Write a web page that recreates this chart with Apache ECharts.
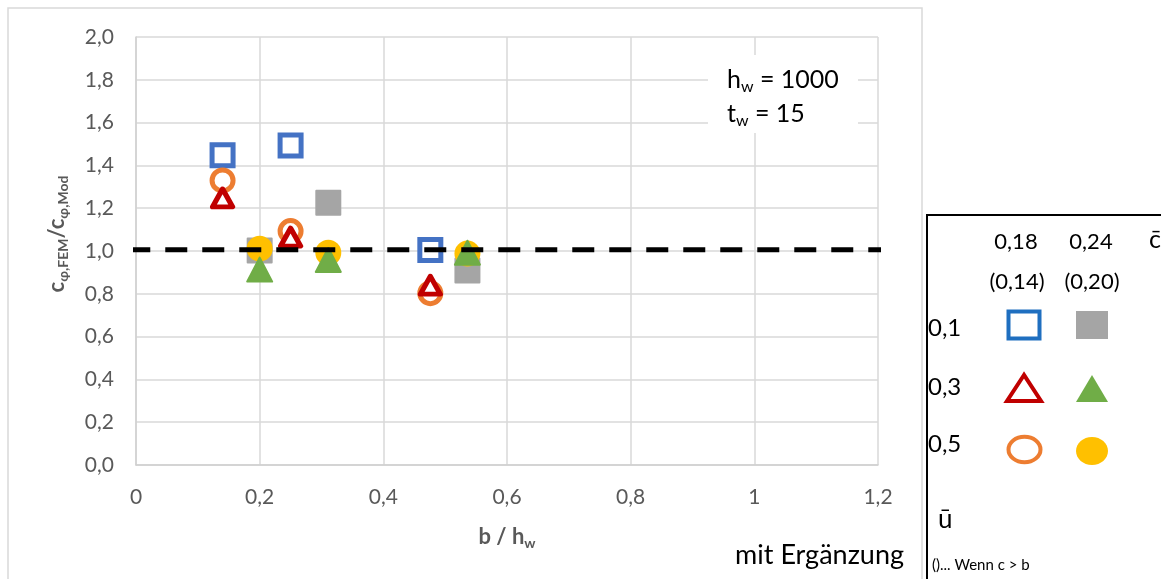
<!DOCTYPE html>
<html><head><meta charset="utf-8">
<script src="https://cdn.jsdelivr.net/npm/echarts@6/dist/echarts.min.js"></script>
<style>html,body{margin:0;padding:0;background:#fff}#c{width:1161px;height:579px}</style>
</head><body><div id="c"></div>
<script>
// ---- data ----
const blueX   = [0.140, 0.250, 0.476];  const blueY   = [1.447, 1.493, 1.005];
const grayX   = [0.200, 0.311, 0.536];  const grayY   = [1.002, 1.226, 0.909];
const orangeX = [0.140, 0.250, 0.476];  const orangeY = [1.330, 1.093, 0.803];
const redX    = [0.140, 0.250, 0.476];  const redY    = [1.248, 1.065, 0.840];
const yellowX = [0.200, 0.311, 0.536];  const yellowY = [1.011, 0.992, 0.988];
const greenX  = [0.200, 0.311, 0.536];  const greenY  = [0.913, 0.958, 0.992];
const refX = [-0.0125, 1.245];          const refY = [1.006, 1.006];
const legendColLabels = ['0,18', '0,24'];
const legendColSubLabels = ['(0,14)', '(0,20)'];
const legendRowLabels = ['0,1', '0,3', '0,5'];

const FONT = 'Lato, "Liberation Sans", sans-serif';
const pts = (xs, ys) => xs.map((x, i) => [x, ys[i]]);
const fmt = v => String(+(+v).toFixed(2)).replace('.', ',');

const chart = echarts.init(document.getElementById('c'), null, {renderer: 'canvas'});

function legendText(text, x, y, size, align) {
  return {type: 'text', z: 100, style: {text, x, y, fill: '#000', font: size + 'px ' + FONT, align: align || 'center', verticalAlign: 'middle'}};
}

const graphics = [
  // outer chart border
  {type: 'rect', z: 0, shape: {x: 8, y: 8, width: 914, height: 600}, style: {fill: 'none', stroke: '#d9d9d9', lineWidth: 1.5}},
  // parameter text box
  {type: 'rect', z: 100, shape: {x: 708, y: 55, width: 150, height: 78}, style: {fill: '#fff'}},
  {type: 'text', z: 101, style: {x: 727, y: 80, verticalAlign: 'middle', align: 'left',
     text: '{m|h}{s|w}{m| = 1000}', rich: {m: {font: '25px ' + FONT, fill: '#000', lineHeight: 30}, s: {font: '16px ' + FONT, fill: '#000', lineHeight: 15, verticalAlign: 'bottom'}}}},
  {type: 'text', z: 101, style: {x: 727, y: 114, verticalAlign: 'middle', align: 'left',
     text: '{m|t}{s|w}{m| = 15}', rich: {m: {font: '25px ' + FONT, fill: '#000', lineHeight: 30}, s: {font: '16px ' + FONT, fill: '#000', lineHeight: 15, verticalAlign: 'bottom'}}}},
  // y axis title
  {type: 'text', z: 100, rotation: Math.PI / 2, x: 57, y: 234, style: {x: 0, y: 0, align: 'center', verticalAlign: 'middle',
     text: '{m|c}{s|φ,FEM}{m|/c}{s|φ,Mod}', rich: {m: {font: 'bold 22px ' + FONT, fill: '#595959', lineHeight: 26}, s: {font: 'bold 14px ' + FONT, fill: '#595959', lineHeight: 14, verticalAlign: 'bottom'}}}},
  // x axis title
  {type: 'text', z: 100, style: {x: 507, y: 537, align: 'center', verticalAlign: 'middle',
     text: '{m|b / h}{s|w}', rich: {m: {font: 'bold 22px ' + FONT, fill: '#595959', lineHeight: 26}, s: {font: 'bold 14px ' + FONT, fill: '#595959', lineHeight: 14, verticalAlign: 'bottom'}}}},
  // mit Ergänzung
  {type: 'text', z: 100, style: {x: 904, y: 555, align: 'right', verticalAlign: 'middle', text: 'mit Ergänzung', fill: '#000', font: '27px ' + FONT}},
  // legend box
  {type: 'rect', z: 100, shape: {x: 927, y: 215, width: 260, height: 400}, style: {fill: '#fff', stroke: '#000', lineWidth: 2}},
  legendText(legendColLabels[0], 1016, 242, 22),
  legendText(legendColLabels[1], 1091, 242, 22),
  legendText('c\u0304', 1155, 240, 25),
  legendText(legendColSubLabels[0], 1017, 282, 22),
  legendText(legendColSubLabels[1], 1092, 282, 22),
  legendText(legendRowLabels[0], 928, 328, 24, 'left'),
  legendText(legendRowLabels[1], 928, 387, 24, 'left'),
  legendText(legendRowLabels[2], 928, 444, 24, 'left'),
  legendText('ū', 938, 520, 26, 'left'),
  legendText('()... Wenn c > b', 932, 565, 15, 'left'),
  // legend symbols
  {type: 'rect', z: 101, shape: {x: 1008.5, y: 311.5, width: 31, height: 27}, style: {fill: 'none', stroke: '#1f6fc0', lineWidth: 4}},
  {type: 'rect', z: 101, shape: {x: 1076, y: 311, width: 32, height: 28}, style: {fill: '#a5a5a5'}},
  {type: 'polygon', z: 101, shape: {points: [[1024, 375], [1007, 401], [1041, 401]]}, style: {fill: 'none', stroke: '#c00000', lineWidth: 4, lineJoin: 'miter'}},
  {type: 'polygon', z: 101, shape: {points: [[1092, 375], [1076, 402], [1108, 402]]}, style: {fill: '#70ad47'}},
  {type: 'ellipse', z: 101, shape: {cx: 1024.5, cy: 449.5, rx: 16, ry: 12.8}, style: {fill: 'none', stroke: '#ed7d31', lineWidth: 4}},
  {type: 'ellipse', z: 101, shape: {cx: 1092, cy: 451, rx: 16, ry: 14}, style: {fill: '#ffc000'}}
];

const option = {
  backgroundColor: '#fff',
  animation: false,
  grid: {left: 136, right: 283, top: 37, bottom: 114, containLabel: false},
  xAxis: {
    type: 'value', min: 0, max: 1.2, interval: 0.2,
    axisLine: {show: true, lineStyle: {color: '#d0d0d0', width: 1.5}},
    axisTick: {show: false},
    splitLine: {show: true, lineStyle: {color: '#d9d9d9', width: 1.5}},
    axisLabel: {color: '#595959', fontFamily: FONT, fontSize: 21, margin: 22, formatter: fmt}
  },
  yAxis: {
    type: 'value', min: 0, max: 2, interval: 0.2,
    axisLine: {show: true, lineStyle: {color: '#d0d0d0', width: 1.5}},
    axisTick: {show: false},
    splitLine: {show: true, lineStyle: {color: '#d9d9d9', width: 1.5}},
    axisLabel: {color: '#595959', fontFamily: FONT, fontSize: 21, margin: 22, formatter: v => (+v).toFixed(1).replace('.', ',')}
  },
  graphic: graphics,
  series: [
    {type: 'scatter', name: 'blue', data: pts(blueX, blueY), symbol: 'rect', symbolSize: 21,
     itemStyle: {color: '#fff', borderColor: '#4472c4', borderWidth: 5, opacity: 1}},
    {type: 'scatter', name: 'gray', data: pts(grayX, grayY), symbol: 'rect', symbolSize: 24,
     itemStyle: {color: '#a5a5a5', borderColor: '#a5a5a5', borderWidth: 2, borderJoin: 'round', opacity: 1}},
    {type: 'scatter', name: 'orange', data: pts(orangeX, orangeY), symbol: 'circle', symbolSize: 21,
     itemStyle: {color: '#fff', borderColor: '#ed7d31', borderWidth: 5, opacity: 1}},
    {type: 'scatter', name: 'red', data: pts(redX, redY), symbol: 'triangle', symbolSize: [20, 18],
     itemStyle: {color: '#fff', borderColor: '#c00000', borderWidth: 5, borderJoin: 'round', opacity: 1}},
    {type: 'scatter', name: 'yellow', data: pts(yellowX, yellowY), symbol: 'circle', symbolSize: 26,
     itemStyle: {color: '#ffc000', opacity: 1}},
    {type: 'scatter', name: 'green', data: pts(greenX, greenY), symbol: 'triangle', symbolSize: [25, 24],
     itemStyle: {color: '#70ad47', borderColor: '#70ad47', borderWidth: 2, borderJoin: 'round', opacity: 1}},
    {type: 'line', name: 'ref', data: pts(refX, refY), z: 5, clip: false, symbol: 'none', silent: true,
     lineStyle: {color: '#000', width: 5, type: [22, 15]}}
  ]
};
chart.setOption(option);
</script>
</body></html>
